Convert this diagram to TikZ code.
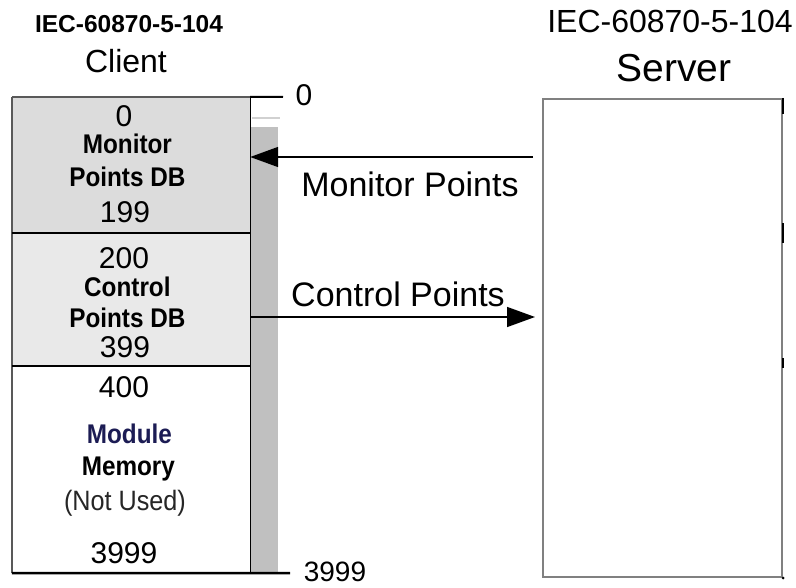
\documentclass[tikz,border=0pt]{standalone}
\usepackage{fontspec}
\setmainfont{Liberation Sans}
\newfontfamily\condfont[FakeStretch=0.9]{Liberation Sans}
\usetikzlibrary{arrows.meta}
\definecolor{monfill}{RGB}{220,220,220}
\definecolor{ctlfill}{RGB}{233,233,233}
\definecolor{barfill}{RGB}{192,192,192}
\definecolor{modblue}{RGB}{28,28,84}
\tikzset{
    ptarrow/.style={-{Triangle[length=28pt,width=20pt]}, line width=1.5pt},
    secbox/.style={minimum width=238pt, inner sep=0pt},
    divline/.style={line width=2.5pt},
    ticks/.style={line width=2pt},
    lbl/.style={anchor=base, inner sep=0pt}
}
\newcommand{\fs}[1]{\fontsize{#1}{#1}\selectfont}
\newcommand{\dbtxt}[1]{{\condfont\bfseries\fs{27} #1}}

\begin{document}
\begin{tikzpicture}[x=1pt,y=-1pt]
    \useasboundingbox (0,0) rectangle (796,588);

    \node[lbl] (ctitle) at (129,33) {\bfseries\fs{24.5}IEC-60870-5-104};
    \node[lbl] (client) at (126,73) {\fs{32}Client};
    \node[lbl] (stitle) at (670,33) {\fs{32}IEC-60870-5-104};
    \node[lbl] (server) at (674,82) {\fs{39}Server};

    \node[secbox, fill=monfill, minimum height=136pt] (mon) at (131,165) {};
    \node[secbox, fill=ctlfill, minimum height=133pt] (ctl) at (131,299.5) {};
    \node[secbox, fill=white, minimum height=207pt] (mem) at (131,469.5) {};
    \node[fill=barfill, minimum width=28pt, minimum height=446pt, inner sep=0pt] (bar) at (264,350) {};
    \draw[line width=2pt, black!18] (252,118) -- (280,118);

    \coordinate (top0) at (283,97);
    \coordinate (bot3999) at (290,573);
    \draw[line width=1.5pt, black!65] (mon.north west) -- (mem.south west);
    \draw[line width=1.5pt, black!65] (mon.north west) -- (mon.north east);
    \draw[line width=1.2pt] (mon.north east) -- (mem.south east);
    \draw[ticks] (mon.north east) -- (top0);
    \draw[divline] (mon.south west) -- (mon.south east);
    \draw[divline] (ctl.south west) -- (ctl.south east);
    \draw[divline] (mem.south west) -- (bot3999);
    \node[lbl] (n0) at (304,106) {\fs{30}0};
    \node[lbl] (n3999) at (335,581) {\fs{28}3999};

    % client database
    \node[lbl] (m0) at (124,127) {\fs{30}0};
    \node[lbl] (m1) at (124,154) {\dbtxt{Monitor}};
    \node[lbl] (m2) at (124,187) {\dbtxt{Points DB}};
    \node[lbl] (m199) at (125,223) {\fs{30}199};
    \node[lbl] (c200) at (124,269) {\fs{30}200};
    \node[lbl] (c1) at (124,297) {\dbtxt{Control}};
    \node[lbl] (c2) at (124,327) {\dbtxt{Points DB}};
    \node[lbl] (c399) at (125,358) {\fs{30}399};
    \node[lbl] (u400) at (124,397) {\fs{30}400};
    \node[lbl, text=modblue] (u1) at (126,443) {\dbtxt{Module}};
    \node[lbl] (u2) at (125,475) {\dbtxt{Memory}};
    \node[lbl, text=black!85] (u3) at (125,510) {\condfont\fs{28}(Not Used)};
    \node[lbl] (u3999) at (124,563) {\fs{30}3999};

    % server
    \node[draw=black!50, line width=2pt, minimum width=239pt, minimum height=478pt, inner sep=0pt] (srv) at (662.5,338) {};
    \draw[ticks] (srv.north east) -- ++(0,16);
    \draw[ticks] (srv.east |- mon.south) ++(0,-10) -- ++(0,20);
    \draw[ticks] (srv.east |- ctl.south) ++(0,-8) -- ++(0,10);
    \fill (srv.south east) circle (1.5pt);

    \coordinate (monsrc) at (533,157);
    \coordinate (ctldst) at (535,317);
    \path [ptarrow](monsrc) edge (mon.east |- monsrc);
    \path [ptarrow](ctl.east |- ctldst) edge (ctldst);

    \node[lbl] (monlbl) at (410,197) {\fs{34}Monitor Points};
    \node[lbl] (ctllbl) at (398,307) {\fs{34}Control Points};
\end{tikzpicture}
\end{document}
